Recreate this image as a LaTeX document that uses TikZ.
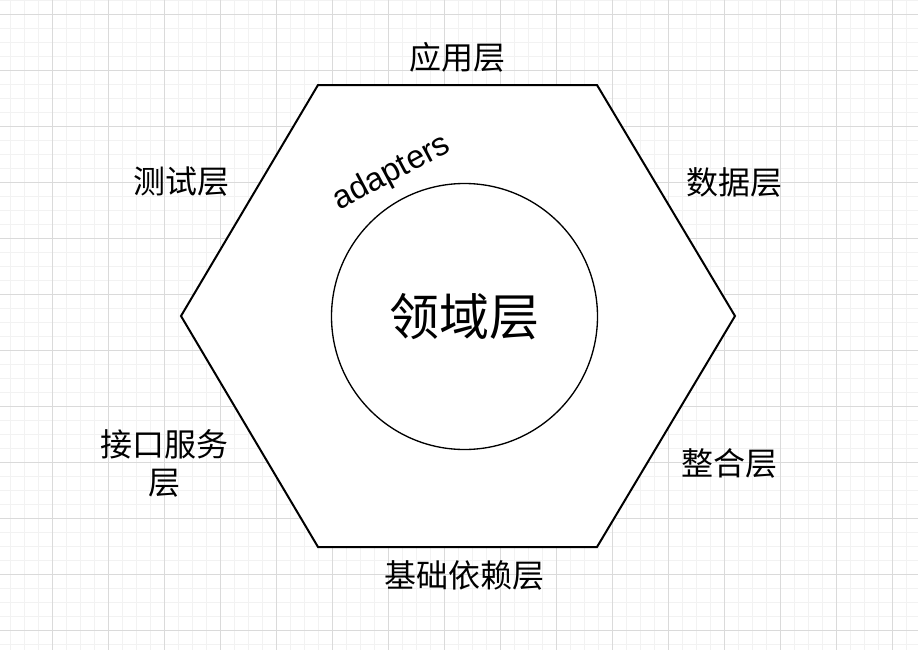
\documentclass[tikz,border=0pt]{standalone}
\usepackage{fontspec}
\setmainfont{Liberation Sans}
\newfontfamily\cjk{Noto Sans CJK SC}
\definecolor{minorgrid}{HTML}{F2F2F2}
\definecolor{majorgrid}{HTML}{DADADA}
\newcommand\PaperGrid[2]{
  \def\W{#1} \def\H{#2}
  \foreach \i in {10,24,...,\W}
  {
    \draw[minorgrid,line width=0.75pt] (\i,0) -- (\i,\H);
  }
  \foreach \j in {0,14,...,\H}
  {
    \draw[minorgrid,line width=0.75pt] (0,\j) -- (\W,\j);
  }
  \foreach \i in {52,108,...,\W}
  {
    \draw[majorgrid,line width=0.75pt] (\i,0) -- (\i,\H);
  }
  \foreach \j in {14,70,...,\H}
  {
    \draw[majorgrid,line width=0.75pt] (0,\j) -- (\W,\j);
  }
}
\tikzset{
  layer/.style={font=\cjk\fontsize{24}{28.5}\selectfont, inner sep=0pt, align=center},
}

\begin{document}
\begin{tikzpicture}[x=0.75pt, y=-0.75pt]
\useasboundingbox (0,0) rectangle (918,650);
\fill[white] (0,0) rectangle (918,650);
\PaperGrid{918}{650}
% hexagon corners
\coordinate (tl) at (318,85);
\coordinate (tr) at (597,85);
\coordinate (r) at (735,316);
\coordinate (br) at (597,547);
\coordinate (bl) at (318,547);
\coordinate (l) at (181,316);
\filldraw[fill=white, line width=1.5pt, line join=miter] (tl) -- (tr) -- (r) -- (br) -- (bl) -- (l) -- cycle;
\node[circle, draw, line width=1pt, minimum size=199.5pt, inner sep=0pt,
      font=\cjk\fontsize{37.5}{42}\selectfont] (domain) at (464.5,316.5) {领域层};
\node[font=\fontsize{24.5}{28}\selectfont, rotate=28, inner sep=0pt] (adapters) at (392,173) {adapters};

\node[layer] (app) at (457,57) {应用层};
\node[layer] (test) at (181,182) {测试层};
\node[layer] (data) at (734,182) {数据层};
\node[layer] (integ) at (729,463) {整合层};
\node[layer] (base) at (464,575) {基础依赖层};
\node[layer] (api) at (164,463) {接口服务\\层};
\end{tikzpicture}
\end{document}
